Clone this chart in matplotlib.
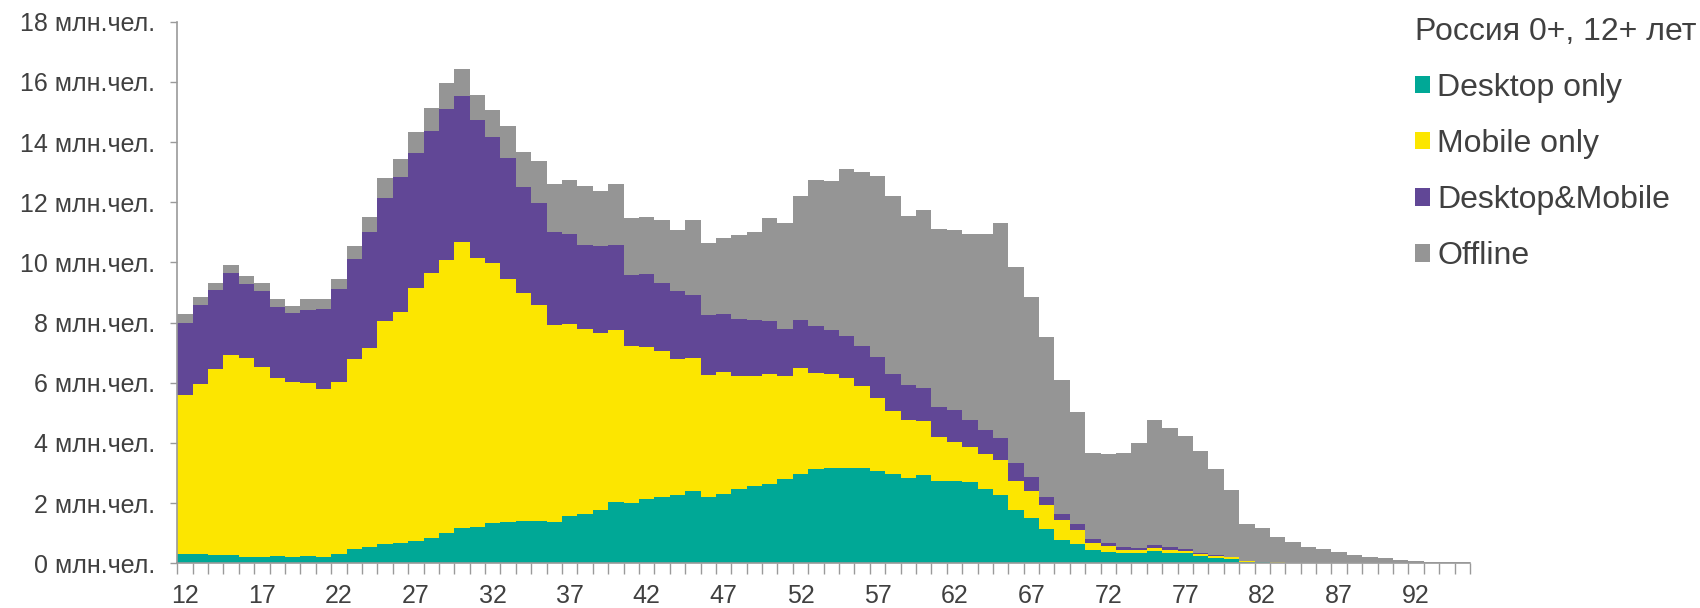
import numpy as np
import matplotlib
matplotlib.use("Agg")
import matplotlib.pyplot as plt

plt.rcParams['font.family'] = ['Liberation Sans', 'DejaVu Sans']

# ages 12..95, values in millions of people
ages = list(range(12, 96))

desktop_only = [
    0.32, 0.30, 0.26, 0.28, 0.21, 0.21, 0.23, 0.21, 0.23, 0.21,
    0.32, 0.48, 0.55, 0.65, 0.67, 0.74, 0.85, 1.00, 1.16, 1.20,
    1.33, 1.38, 1.40, 1.40, 1.38, 1.57, 1.65, 1.77, 2.03, 2.02,
    2.13, 2.21, 2.26, 2.39, 2.20, 2.32, 2.47, 2.57, 2.65, 2.79,
    2.98, 3.15, 3.18, 3.18, 3.17, 3.08, 2.98, 2.84, 2.94, 2.74,
    2.73, 2.70, 2.47, 2.27, 1.77, 1.52, 1.14, 0.77, 0.64, 0.45,
    0.39, 0.34, 0.35, 0.42, 0.35, 0.33, 0.24, 0.18, 0.14, 0.06,
    0.03, 0.02, 0.01, 0.01, 0.0, 0.0, 0.0, 0.0, 0.0, 0.0,
    0.0, 0.0, 0.0, 0.0,
]
mobile_only = [
    5.26, 5.67, 6.21, 6.64, 6.61, 6.32, 5.94, 5.81, 5.75, 5.57,
    5.72, 6.30, 6.61, 7.40, 7.69, 8.41, 8.81, 9.08, 9.52, 8.96,
    8.66, 8.07, 7.59, 7.20, 6.53, 6.37, 6.15, 5.90, 5.72, 5.20,
    5.06, 4.84, 4.52, 4.45, 4.06, 4.03, 3.75, 3.67, 3.64, 3.43,
    3.50, 3.19, 3.11, 2.99, 2.72, 2.40, 2.07, 1.91, 1.78, 1.46,
    1.31, 1.16, 1.17, 1.17, 0.98, 0.88, 0.80, 0.68, 0.47, 0.24,
    0.17, 0.10, 0.08, 0.10, 0.09, 0.07, 0.07, 0.07, 0.06, 0.02,
    0.02, 0.01, 0.01, 0.0, 0.0, 0.0, 0.0, 0.0, 0.0, 0.0,
    0.0, 0.0, 0.0, 0.0,
]
desktop_mobile = [
    2.42, 2.63, 2.61, 2.72, 2.46, 2.51, 2.35, 2.30, 2.44, 2.68,
    3.09, 3.33, 3.84, 4.10, 4.49, 4.50, 4.71, 5.02, 4.86, 4.58,
    4.19, 4.02, 3.53, 3.38, 3.09, 3.02, 2.78, 2.86, 2.83, 2.37,
    2.41, 2.28, 2.26, 2.09, 1.98, 1.93, 1.90, 1.83, 1.76, 1.57,
    1.59, 1.55, 1.46, 1.40, 1.32, 1.37, 1.23, 1.17, 1.11, 1.00,
    1.07, 0.90, 0.80, 0.74, 0.59, 0.47, 0.27, 0.19, 0.20, 0.12,
    0.13, 0.11, 0.09, 0.10, 0.09, 0.06, 0.04, 0.02, 0.01, 0.01,
    0.01, 0.0, 0.0, 0.0, 0.0, 0.0, 0.0, 0.0, 0.0, 0.0,
    0.0, 0.0, 0.0, 0.0,
]
offline = [
    0.27, 0.25, 0.22, 0.26, 0.28, 0.26, 0.25, 0.24, 0.37, 0.33,
    0.32, 0.44, 0.52, 0.65, 0.58, 0.70, 0.75, 0.87, 0.90, 0.82,
    0.90, 1.08, 1.15, 1.38, 1.60, 1.77, 1.95, 1.83, 2.04, 1.87,
    1.91, 2.08, 2.05, 2.47, 2.40, 2.53, 2.78, 2.93, 3.41, 3.53,
    4.15, 4.86, 4.97, 5.52, 5.79, 6.02, 5.92, 5.62, 5.92, 5.91,
    5.97, 6.20, 6.50, 7.13, 6.51, 5.98, 5.32, 4.44, 3.72, 2.84,
    2.93, 3.10, 3.48, 4.15, 3.97, 3.77, 3.38, 2.85, 2.21, 1.22,
    1.11, 0.85, 0.68, 0.54, 0.46, 0.39, 0.28, 0.21, 0.17, 0.12,
    0.07, 0.04, 0.03, 0.03,
]

series = [
    ("Desktop only", desktop_only, "#00a896"),
    ("Mobile only", mobile_only, "#fce600"),
    ("Desktop&Mobile", desktop_mobile, "#614796"),
    ("Offline", offline, "#959595"),
]

text_color = "#404040"
axis_color = "#9a9a9a"

fig = plt.figure(figsize=(17, 6.08), dpi=100)
ax = fig.add_axes([0.1043, 0.0735, 0.8647 - 0.1043, 0.9643 - 0.0735])

x = np.arange(len(ages))
bottom = np.zeros(len(ages))
handles = []
for name, vals, color in series:
    vals = np.array(vals)
    h = ax.bar(x, vals, width=1.0, bottom=bottom, color=color,
               edgecolor="none", linewidth=0, label=name)
    handles.append(h)
    bottom += vals

ax.set_xlim(-0.5, len(ages) - 0.5)
ax.set_ylim(0, 18)

# y axis
yt = np.arange(0, 19, 2)
ax.set_yticks(yt)
ax.set_yticklabels([f"{v} млн.чел." for v in yt], color=text_color, fontsize=18)
ax.tick_params(axis="y", direction="out", length=5, width=1, color=axis_color, pad=11)

# x axis: ticks at bar boundaries, labels every 5 years
ax.set_xticks(np.arange(len(ages) + 1) - 0.5)
ax.set_xticklabels([])
ax.set_xticks([i for i, a in enumerate(ages) if (a - 12) % 5 == 0], minor=True)
ax.set_xticklabels([str(a) for a in ages if (a - 12) % 5 == 0], minor=True,
                   color=text_color, fontsize=18)
ax.tick_params(axis="x", which="major", direction="out", length=8, width=1, color=axis_color)
ax.tick_params(axis="x", which="minor", length=0, pad=15)

for s in ["top", "right"]:
    ax.spines[s].set_visible(False)
for s in ["left", "bottom"]:
    ax.spines[s].set_color(axis_color)
    ax.spines[s].set_linewidth(1.2)

leg = fig.legend(handles=handles, labels=[s[0] for s in series],
                 title="Россия 0+, 12+ лет", loc="upper left",
                 bbox_to_anchor=(0.823, 0.999), frameon=False, fontsize=23,
                 title_fontsize=23, alignment="left", borderpad=0,
                 handlelength=0.47, handleheight=0.47, handletextpad=0.22,
                 labelspacing=0.82)
for t in leg.get_texts():
    t.set_color(text_color)
leg.get_title().set_color(text_color)

fig.savefig("out.png", dpi=100, facecolor="white")
